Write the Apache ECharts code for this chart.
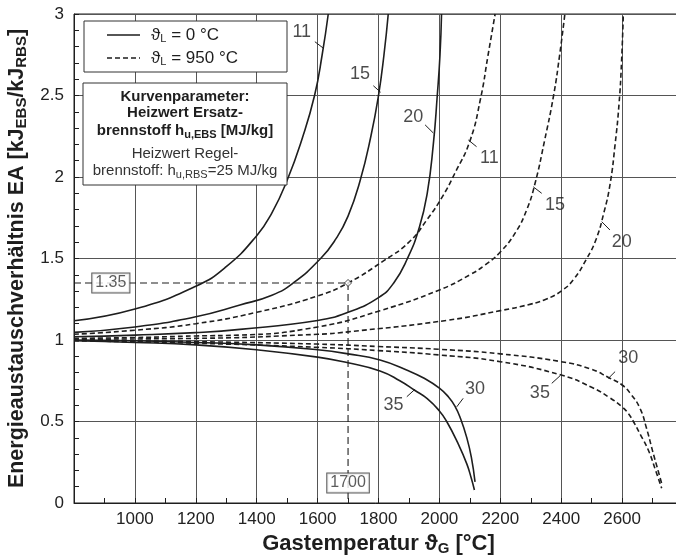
<!DOCTYPE html>
<html>
<head>
<meta charset="utf-8">
<script src="https://cdn.jsdelivr.net/npm/echarts@6/dist/echarts.min.js"></script>
<style>
html,body{margin:0;padding:0;background:#fff;}
#chart{width:676px;height:560px;}
</style>
</head>
<body>
<div id="chart"></div>
<script>
// ---- Data (x: gas temperature °C, y: energy exchange ratio EA) ----
// Luftvorwärmung 0 °C (solid)
const solid11 = [[800,1.118],[1000,1.19],[1200,1.33],[1300,1.45],[1400,1.64],[1450,1.78],[1500,1.98],[1550,2.24],[1590,2.5],[1615,2.75],[1635,3.0]];
const solid15 = [[800,1.047],[1000,1.08],[1200,1.143],[1345,1.215],[1450,1.275],[1520,1.35],[1610,1.5],[1660,1.62],[1700,1.76],[1740,1.98],[1775,2.25],[1800,2.5],[1818,2.75],[1832,3.0]];
const solid20 = [[800,1.02],[1000,1.03],[1200,1.045],[1345,1.065],[1600,1.12],[1700,1.17],[1800,1.26],[1850,1.35],[1895,1.5],[1934,1.69],[1960,1.9],[1980,2.2],[1993,2.5],[2002,2.75],[2007,3.0]];
const solid30 = [[800,1.0],[1000,0.995],[1200,0.985],[1400,0.97],[1600,0.94],[1700,0.915],[1805,0.877],[1900,0.81],[1950,0.765],[2000,0.705],[2030,0.65],[2051,0.595],[2070,0.515],[2090,0.40],[2105,0.28],[2117,0.13]];
const solid35 = [[800,0.995],[1000,0.985],[1200,0.97],[1400,0.94],[1600,0.895],[1700,0.86],[1805,0.81],[1870,0.75],[1920,0.69],[1960,0.64],[2000,0.565],[2024,0.5],[2060,0.37],[2090,0.24],[2105,0.15],[2115,0.08]];
// Luftvorwärmung 950 °C (dashed)
const dash11 = [[800,1.035],[1000,1.06],[1200,1.10],[1400,1.17],[1600,1.27],[1700,1.35],[1820,1.49],[1900,1.6],[1960,1.74],[2010,1.88],[2050,2.02],[2100,2.22],[2135,2.48],[2160,2.75],[2183,3.0]];
const dash15 = [[800,1.01],[1000,1.015],[1200,1.025],[1345,1.03],[1600,1.08],[1805,1.18],[2000,1.307],[2100,1.40],[2150,1.46],[2200,1.54],[2250,1.66],[2287,1.8],[2314,1.96],[2345,2.22],[2375,2.5],[2395,2.75],[2412,3.0]];
const dash20 = [[800,1.005],[1200,1.01],[1600,1.035],[1700,1.05],[2023,1.12],[2200,1.18],[2300,1.22],[2350,1.25],[2400,1.30],[2440,1.37],[2484,1.5],[2515,1.62],[2540,1.78],[2560,1.95],[2577,2.2],[2590,2.45],[2598,2.7],[2604,3.0]];
const dash30 = [[800,1.0],[1200,0.99],[1600,0.975],[1800,0.96],[2000,0.943],[2200,0.915],[2400,0.867],[2500,0.82],[2555,0.77],[2600,0.724],[2630,0.665],[2659,0.58],[2680,0.46],[2700,0.32],[2718,0.2],[2730,0.12]];
const dash35 = [[800,0.995],[1200,0.98],[1600,0.955],[1800,0.935],[2000,0.908],[2200,0.867],[2400,0.785],[2500,0.71],[2560,0.645],[2600,0.59],[2620,0.55],[2637,0.5],[2660,0.42],[2686,0.325],[2710,0.2],[2730,0.09]];

// Curve parameter labels: [x, y, text] and their leader ticks
const curveLabels = [[1548,2.89,'11'],[1739,2.63,'15'],[1914,2.37,'20'],[2164,2.115,'11'],[2380,1.83,'15'],[2599,1.60,'20'],[1849,0.60,'35'],[2117,0.70,'30'],[2330,0.673,'35'],[2620,0.888,'30']];
const labelTicks = [
  [[1591,2.83],[1619,2.79]], [[1783,2.56],[1807,2.52]], [[1953,2.32],[1980,2.27]],
  [[2095,2.227],[2122,2.186]], [[2308,1.94],[2336,1.90]], [[2533,1.726],[2560,1.675]],
  [[1893,0.652],[1920,0.698]], [[2057,0.59],[2078,0.642]], [[2369,0.734],[2396,0.78]],
  [[2555,0.765],[2577,0.806]]
];
// Example reading
const examplePoint = [1700, 1.35];
const exampleXLabel = [1700, 0.123, '1700'];
const exampleYLabel = [921, 1.35, '1.35'];

const xTicks = {min: 800, max: 2800, interval: 200};
const yTicks = {min: 0, max: 3, interval: 0.5};

const FONT = '"Liberation Sans", Arial, Helvetica, sans-serif';
const INK = '#1e1e1e';

const chart = echarts.init(document.getElementById('chart'), null, {renderer: 'canvas'});

function curve(data, dashed) {
  return {
    type: 'line', data: data, smooth: 0.5,
    showSymbol: false, symbol: 'none', silent: true, z: 3,
    lineStyle: {color: INK, width: 1.6, type: dashed ? [5, 3] : 'solid'}
  };
}

const series = [
  curve(solid11, false), curve(solid15, false), curve(solid20, false), curve(solid30, false), curve(solid35, false),
  curve(dash11, true), curve(dash15, true), curve(dash20, true), curve(dash30, true), curve(dash35, true),
  {type: 'line', data: [[xTicks.min, examplePoint[1]], examplePoint], symbol: 'none', z: 2,
   lineStyle: {color: INK, width: 1.1, type: [7, 4]}},
  {type: 'line', data: [examplePoint, [examplePoint[0], 0]], symbol: 'none', z: 2,
   lineStyle: {color: INK, width: 1.1, type: [7, 4]}},
  {type: 'scatter', data: [examplePoint], symbol: 'diamond', symbolSize: 7, z: 6,
   itemStyle: {color: '#fff', borderColor: INK, borderWidth: 1}},
  {type: 'scatter', data: [exampleYLabel, exampleXLabel], symbolSize: 0, z: 7,
   label: {show: true, position: 'inside', formatter: p => p.data[2], fontFamily: FONT, fontSize: 16, color: '#333',
           backgroundColor: '#fff', borderColor: '#333', borderWidth: 1, padding: [2, 3, 1, 3]}},
  {type: 'scatter', data: curveLabels, symbolSize: 0, z: 7,
   label: {show: true, position: 'inside', formatter: p => p.data[2], fontFamily: FONT, fontSize: 18, color: INK}}
];
labelTicks.forEach(t => series.push({type: 'line', data: t, symbol: 'none', z: 4, lineStyle: {color: INK, width: 1}}));

const subRich = (size, bold) => ({
  sub: {fontSize: size, fontWeight: bold ? 'bold' : 'normal', fontFamily: FONT, color: INK, padding: [10, 0, 0, 0]}
});

const option = {
  backgroundColor: '#fff',
  animation: false,
  grid: {left: 74, top: 14, right: -7, bottom: 57, show: true, borderColor: INK, borderWidth: 1, backgroundColor: 'transparent', outerBoundsMode: 'none'},
  xAxis: {
    type: 'value', min: xTicks.min, max: xTicks.max, interval: xTicks.interval,
    name: 'Gastemperatur ϑ{sub|G} [°C]', nameLocation: 'middle', nameGap: 28,
    nameTextStyle: {fontFamily: FONT, fontSize: 22, fontWeight: 'bold', color: INK, rich: subRich(15, true)},
    axisLine: {show: true, lineStyle: {color: INK, width: 1}},
    axisTick: {show: true, inside: true, length: 5, lineStyle: {color: INK}},
    minorTick: {show: true, splitNumber: 2, length: 5, lineStyle: {color: INK}},
    axisLabel: {fontFamily: FONT, fontSize: 17, color: '#222', margin: 8, showMinLabel: false, showMaxLabel: false,
                formatter: v => String(v)},
    splitLine: {show: true, lineStyle: {color: '#555', width: 1}}
  },
  yAxis: {
    type: 'value', min: yTicks.min, max: yTicks.max, interval: yTicks.interval,
    name: 'Energieaustauschverhältnis EA [kJ{sub|EBS}/kJ{sub|RBS}]', nameLocation: 'middle', nameGap: 43, nameRotate: 90,
    nameTextStyle: {fontFamily: FONT, fontSize: 21.5, fontWeight: 'bold', color: INK, rich: subRich(15, true)},
    axisLine: {show: true, lineStyle: {color: INK, width: 1}},
    axisTick: {show: true, inside: true, length: 5, lineStyle: {color: INK}},
    minorTick: {show: true, splitNumber: 5, length: 5, lineStyle: {color: INK}},
    axisLabel: {fontFamily: FONT, fontSize: 17, color: '#222', margin: 10, formatter: v => String(v)},
    splitLine: {show: true, lineStyle: {color: '#555', width: 1}}
  },
  series: series,
  graphic: [
    // legend box
    {type: 'rect', shape: {x: 84, y: 21, width: 203, height: 51}, z: 20,
     style: {fill: '#fff', stroke: '#333', lineWidth: 1}},
    {type: 'line', shape: {x1: 107, y1: 35, x2: 140, y2: 35}, z: 21, style: {stroke: INK, lineWidth: 1.6}},
    {type: 'line', shape: {x1: 107, y1: 58, x2: 140, y2: 58}, z: 21, style: {stroke: INK, lineWidth: 1.6, lineDash: [5, 3]}},
    {type: 'text', x: 151, y: 35, z: 21, style: {text: 'ϑ{s|L} = 0 °C', fontFamily: FONT, fontSize: 17, fill: INK,
      verticalAlign: 'middle', rich: {s: {fontSize: 11, fontFamily: FONT, fill: INK, padding: [8, 0, 0, 0]}}}},
    {type: 'text', x: 151, y: 58, z: 21, style: {text: 'ϑ{s|L} = 950 °C', fontFamily: FONT, fontSize: 17, fill: INK,
      verticalAlign: 'middle', rich: {s: {fontSize: 11, fontFamily: FONT, fill: INK, padding: [8, 0, 0, 0]}}}},
    // parameter box
    {type: 'rect', shape: {x: 83, y: 83, width: 204, height: 102}, z: 20,
     style: {fill: '#fff', stroke: '#333', lineWidth: 1}},
    {type: 'text', x: 185, y: 97, z: 21, style: {text: 'Kurvenparameter:', fontFamily: FONT, fontSize: 15, fontWeight: 'bold', fill: INK, align: 'center', verticalAlign: 'middle'}},
    {type: 'text', x: 185, y: 113, z: 21, style: {text: 'Heizwert Ersatz-', fontFamily: FONT, fontSize: 15, fontWeight: 'bold', fill: INK, align: 'center', verticalAlign: 'middle'}},
    {type: 'text', x: 185, y: 131, z: 21, style: {text: 'brennstoff h{s|u,EBS} [MJ/kg]', fontFamily: FONT, fontSize: 15, fontWeight: 'bold', fill: INK, align: 'center', verticalAlign: 'middle',
      rich: {s: {fontSize: 11, fontWeight: 'bold', fontFamily: FONT, fill: INK, padding: [8, 0, 0, 0]}}}},
    {type: 'text', x: 185, y: 154, z: 21, style: {text: 'Heizwert Regel-', fontFamily: FONT, fontSize: 15, fill: '#333', align: 'center', verticalAlign: 'middle'}},
    {type: 'text', x: 185, y: 171, z: 21, style: {text: 'brennstoff: h{s|u,RBS}=25 MJ/kg', fontFamily: FONT, fontSize: 15, fill: '#333', align: 'center', verticalAlign: 'middle',
      rich: {s: {fontSize: 11, fontFamily: FONT, fill: '#333', padding: [8, 0, 0, 0]}}}}
  ]
};
chart.setOption(option);
</script>
</body>
</html>
